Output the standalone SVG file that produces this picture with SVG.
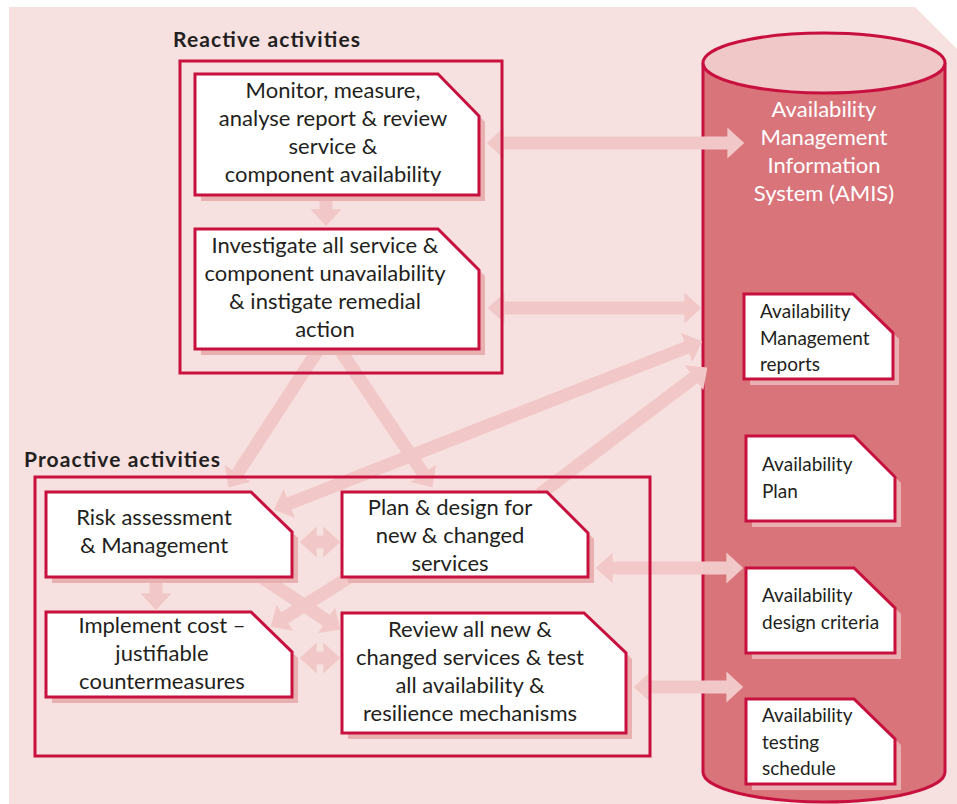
<svg xmlns="http://www.w3.org/2000/svg" width="957" height="804" viewBox="0 0 957 804">
<style>
.frame{fill:none;stroke:#c8103f;stroke-width:3}
.box{fill:#fff;stroke:#c8103f;stroke-width:3;stroke-linejoin:miter}
.shadow{fill:#e9b0b1}
.t{font-family:Lato,"Open Sans","Liberation Sans",sans-serif;font-size:22px;fill:#231f20;text-anchor:middle}
.s{font-family:Lato,"Open Sans","Liberation Sans",sans-serif;font-size:19px;fill:#231f20}
.w{font-family:Lato,"Open Sans","Liberation Sans",sans-serif;font-size:22px;fill:#fff;text-anchor:middle}
.h{font-family:Lato,"Open Sans","Liberation Sans",sans-serif;font-size:21px;font-weight:bold;fill:#231f20}
.arr{stroke:#f1c8c7;stroke-width:13;fill:none}
.one{marker-end:url(#head)}
.two{marker-start:url(#head);marker-end:url(#head)}
</style>
<defs>
<marker id="head" viewBox="0 0 1.3 2.4" refX="0.05" refY="1.2" markerWidth="1.3" markerHeight="2.4" markerUnits="strokeWidth" orient="auto-start-reverse">
<path d="M0,0 L1.3,1.2 L0,2.4 Z" fill="#f1c8c7"/>
</marker>
</defs>
<path d="M9,7 H915 L957,49 V804 H9 Z" fill="#f7e1e0"/>

<g id="amis">
<path d="M703,63 V772 A121,30 0 0 0 945,772 V63" fill="#d9747a" stroke="#c8103f" stroke-width="3"/>
<ellipse cx="824" cy="63" rx="121" ry="30" fill="#f0c8c8" stroke="#c8103f" stroke-width="3"/>
<text class="w" x="824" y="117">Availability</text>
<text class="w" x="824" y="145">Management</text>
<text class="w" x="824" y="173">Information</text>
<text class="w" x="824" y="201">System (AMIS)</text>
</g>

<g id="connectors">
<line class="arr two" x1="503" y1="143" x2="728" y2="143"/>
<line class="arr two" x1="504" y1="308" x2="685" y2="308"/>
<line class="arr two" x1="288.8" y1="503.8" x2="687.2" y2="347.2"/>
<line class="arr one" x1="540" y1="494" x2="694.4" y2="377.3"/>
<line class="arr one" x1="326" y1="195" x2="326" y2="210"/>
<line class="arr one" x1="318" y1="350" x2="237.3" y2="473.8"/>
<line class="arr one" x1="340" y1="350" x2="423.5" y2="473.9"/>
<line class="arr two" x1="316" y1="542" x2="324" y2="542"/>
<line class="arr two" x1="316" y1="658" x2="324" y2="658"/>
<line class="arr one" x1="156" y1="576" x2="156" y2="594"/>
<line class="arr one" x1="263" y1="578" x2="326.9" y2="620.6"/>
<line class="arr one" x1="348" y1="578" x2="284.4" y2="618"/>
<line class="arr two" x1="612" y1="568" x2="727" y2="568"/>
<line class="arr two" x1="650" y1="687" x2="727" y2="687"/>
</g>

<g id="reactive">
<rect class="frame" x="180" y="61" width="322" height="312"/>
<text class="h" x="173" y="47" textLength="187" lengthAdjust="spacing">Reactive activities</text>
</g>
<g id="proactive">
<rect class="frame" x="35" y="477" width="615" height="279"/>
<text class="h" x="24" y="467" textLength="196" lengthAdjust="spacing">Proactive activities</text>
</g>

<g id="monitor">
<path class="shadow" d="M201,80 H444 L485,122 V201 H201 Z"/>
<path class="box" d="M195,74 H438 L479,116 V195 H195 Z"/>
<text class="t" x="333" y="98">Monitor, measure,</text>
<text class="t" x="333" y="126">analyse report &amp; review</text>
<text class="t" x="333" y="154">service &amp;</text>
<text class="t" x="333" y="182">component availability</text>
</g>

<g id="investigate">
<path class="shadow" d="M201,235 H444 L485,276 V355 H201 Z"/>
<path class="box" d="M195,229 H438 L479,270 V349 H195 Z"/>
<text class="t" x="325" y="253">Investigate all service &amp;</text>
<text class="t" x="325" y="281">component unavailability</text>
<text class="t" x="325" y="309">&amp; instigate remedial</text>
<text class="t" x="325" y="337">action</text>
</g>

<g id="risk">
<path class="shadow" d="M52,498 H257 L298,538 V583 H52 Z"/>
<path class="box" d="M46,492 H251 L292,532 V577 H46 Z"/>
<text class="t" x="154" y="525">Risk assessment</text>
<text class="t" x="154" y="553">&amp; Management</text>
</g>

<g id="implement">
<path class="shadow" d="M52,618 H257 L298,658 V703 H52 Z"/>
<path class="box" d="M46,612 H251 L292,652 V697 H46 Z"/>
<text class="t" x="162" y="633">Implement cost –</text>
<text class="t" x="162" y="661">justifiable</text>
<text class="t" x="162" y="689">countermeasures</text>
</g>

<g id="plan">
<path class="shadow" d="M348,498 H553 L594,539 V583 H348 Z"/>
<path class="box" d="M342,492 H547 L588,533 V577 H342 Z"/>
<text class="t" x="450" y="515">Plan &amp; design for</text>
<text class="t" x="450" y="543">new &amp; changed</text>
<text class="t" x="450" y="571">services</text>
</g>

<g id="review">
<path class="shadow" d="M348,619 H590 L632,659 V739 H348 Z"/>
<path class="box" d="M342,613 H584 L626,653 V733 H342 Z"/>
<text class="t" x="470" y="637">Review all new &amp;</text>
<text class="t" x="470" y="665">changed services &amp; test</text>
<text class="t" x="470" y="693">all availability &amp;</text>
<text class="t" x="470" y="721">resilience mechanisms</text>
</g>

<g id="reports">
<path class="shadow" d="M750,300 H859 L899,339 V385 H750 Z"/>
<path class="box" d="M744,294 H853 L893,333 V379 H744 Z"/>
<text class="s" x="760" y="318">Availability</text>
<text class="s" x="760" y="345">Management</text>
<text class="s" x="760" y="371">reports</text>
</g>

<g id="avplan">
<path class="shadow" d="M752,442 H860 L901,483 V527 H752 Z"/>
<path class="box" d="M746,436 H854 L895,477 V521 H746 Z"/>
<text class="s" x="762" y="471">Availability</text>
<text class="s" x="762" y="498">Plan</text>
</g>

<g id="criteria">
<path class="shadow" d="M752,574 H860 L901,614 V659 H752 Z"/>
<path class="box" d="M746,568 H854 L895,608 V653 H746 Z"/>
<text class="s" x="762" y="602">Availability</text>
<text class="s" x="762" y="629">design criteria</text>
</g>

<g id="testing">
<path class="shadow" d="M752,705 H860 L901,745 V790 H752 Z"/>
<path class="box" d="M746,699 H854 L895,739 V784 H746 Z"/>
<text class="s" x="762" y="722">Availability</text>
<text class="s" x="762" y="749">testing</text>
<text class="s" x="762" y="775">schedule</text>
</g>
</svg>
